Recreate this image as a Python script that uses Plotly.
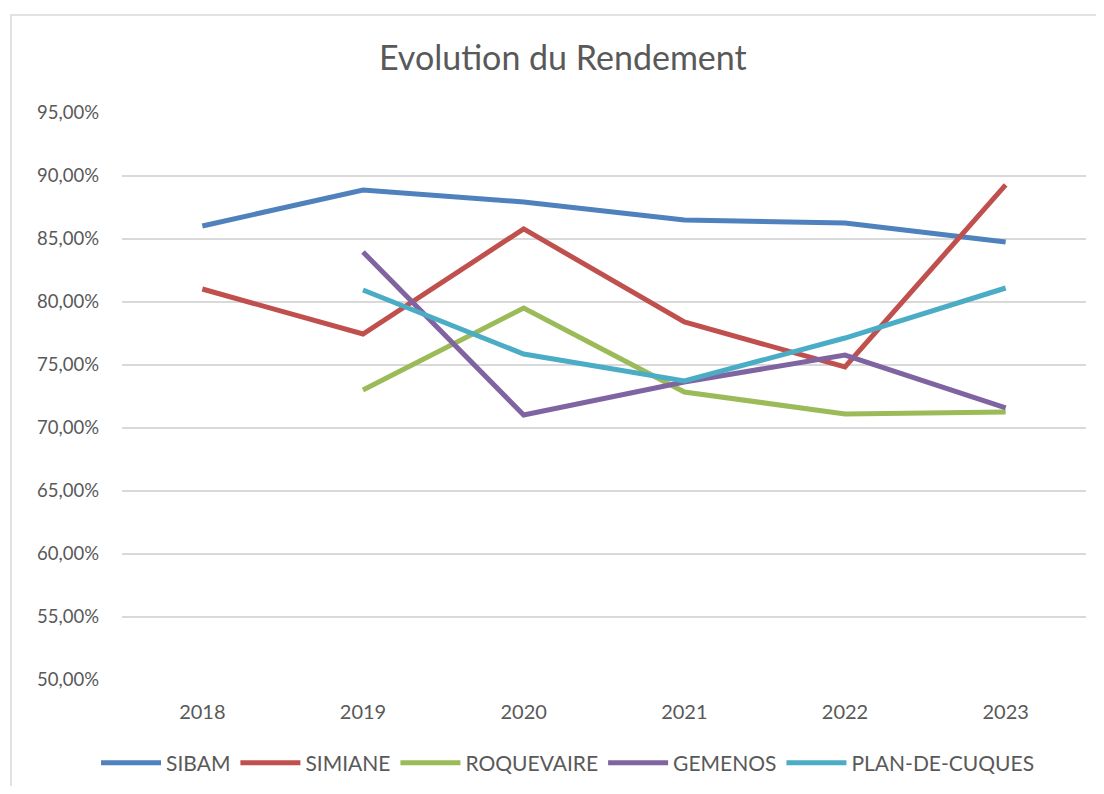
import plotly.graph_objects as go

years = ["2018", "2019", "2020", "2021", "2022", "2023"]
sibam = [0.8603, 0.8889, 0.8794, 0.8650, 0.8627, 0.8476]
simiane = [0.8103, 0.7746, 0.8580, 0.7841, 0.7484, 0.8929]
roquevaire = [None, 0.7302, 0.7952, 0.7286, 0.7111, 0.7127]
gemenos = [None, 0.8397, 0.7103, 0.7365, 0.7579, 0.7159]
plan_de_cuques = [None, 0.8095, 0.7587, 0.7373, 0.7714, 0.8111]

series = [
    ("SIBAM", sibam, "#4F81BD"),
    ("SIMIANE", simiane, "#C0504D"),
    ("ROQUEVAIRE", roquevaire, "#9BBB59"),
    ("GEMENOS", gemenos, "#8064A2"),
    ("PLAN-DE-CUQUES", plan_de_cuques, "#4BACC6"),
]

FONT = "Lato, 'Open Sans', sans-serif"
W, H = 1088, 778
fig = go.Figure()
for name, vals, col in series:
    fig.add_trace(go.Scatter(x=years, y=vals, name=name, mode="lines",
                             line=dict(color=col, width=5)))

fig.update_layout(
    width=W, height=H,
    paper_bgcolor="white", plot_bgcolor="white",
    separators=", ",
    margin=dict(l=114, r=10, t=105, b=106),
    font=dict(family=FONT, color="#595959", size=19),
    title=dict(text="Evolution du Rendement", x=0.510, xanchor="center",
               y=1 - 50 / H, yanchor="middle",
               font=dict(size=34, color="#595959", family=FONT)),
    xaxis=dict(type="category", range=[-0.5, 5.5], showgrid=False,
               showline=False, ticks="", tickfont=dict(size=20),
               ticklabelstandoff=18),
    yaxis=dict(range=[0.5, 0.95], dtick=0.05, tickformat=".2%",
               showgrid=True, gridcolor="#D9D9D9", gridwidth=1.5,
               zeroline=False, showline=False, ticks="",
               ticklabelstandoff=22, tickfont=dict(size=18.5)),
    legend=dict(orientation="h", x=0.4627, xanchor="center",
                yref="container", y=1 - 755 / H, yanchor="middle",
                font=dict(size=21, color="#595959"),
                itemwidth=60, tracegroupgap=0),
    showlegend=True,
    shapes=[dict(type="rect", xref="paper", yref="paper",
                 x0=-(114 - 3) / 964, x1=1.5, y0=-1, y1=1 + (105 - 7) / 567,
                 line=dict(color="#D9D9D9", width=1.5), layer="below")],
)

fig.write_html("out.html")
